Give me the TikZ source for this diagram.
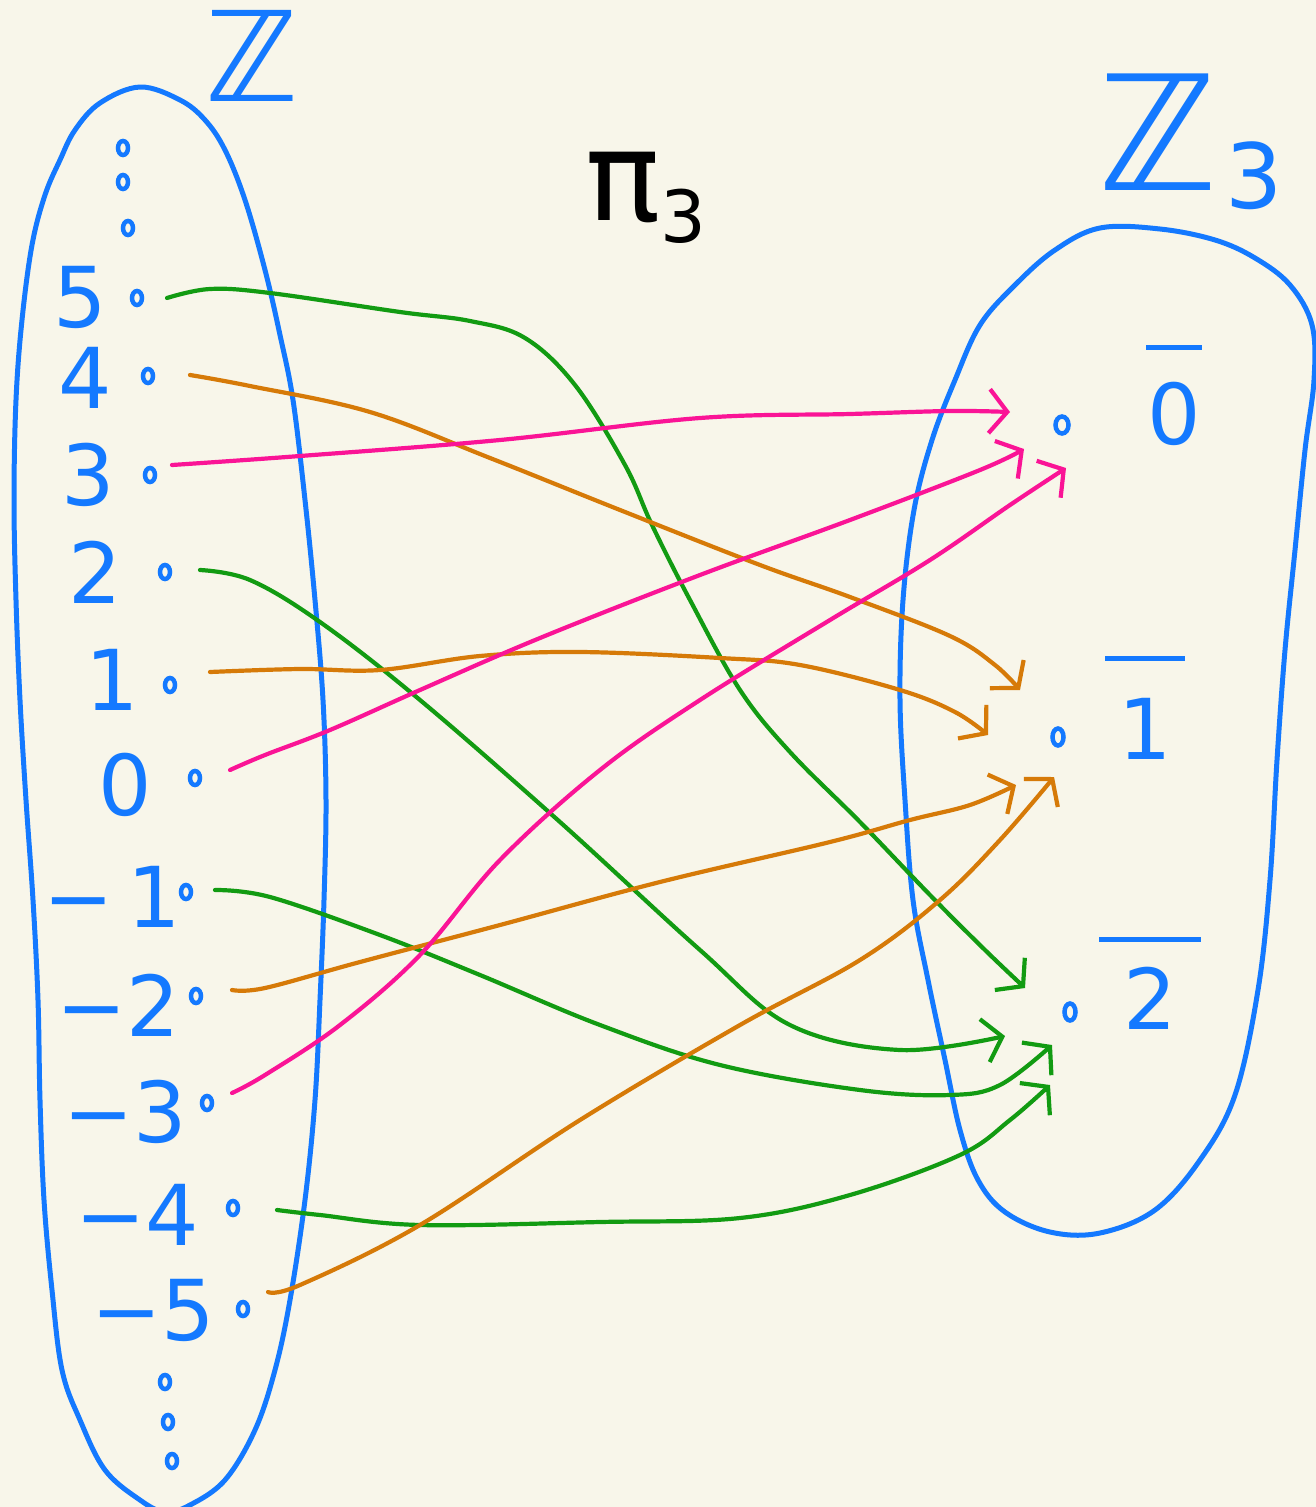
\documentclass[tikz,border=0pt]{standalone}
\usepackage{fontspec}
\setmainfont{DejaVu Sans}
\usetikzlibrary{arrows.meta,shapes.geometric}
\definecolor{bg}{HTML}{F8F6EA}
\definecolor{zblue}{HTML}{1479FF}
\definecolor{zgreen}{HTML}{129B12}
\definecolor{zorange}{HTML}{D67A08}
\definecolor{zpink}{HTML}{FA1496}
\newcommand\clsbar[3]{\begin{tabular}{@{}c@{}}\rule{#1}{5pt}\\[#2]#3\end{tabular}}
\begin{document}
\begin{tikzpicture}[x=1pt,y=-1pt,
  outline/.style={draw=zblue,line width=5pt,line cap=round,line join=round},
  numlab/.style={text=zblue,font=\fontsize{84}{90}\selectfont,inner sep=0pt},
  reslab/.style={text=zblue,font=\fontsize{84}{90}\selectfont,inner sep=0pt},
  elem/.style={ellipse,draw=zblue,line width=4.5pt,minimum width=10pt,minimum height=14pt,inner sep=0pt},
  map/.style={line width=4.2pt,line cap=round,line join=round,
    -{Straight Barb[length=18pt,width=44pt,line width=4.2pt]}},
  gmap/.style={map,draw=zgreen},
  omap/.style={map,draw=zorange},
  pmap/.style={map,draw=zpink},
]
\fill[bg] (0,0) rectangle (1316,1507);
\useasboundingbox (0,0) rectangle (1316,1507);

% ---- set outlines ----
\draw[outline] plot[smooth cycle,tension=0.6] coordinates {
  (140,87) (180,100) (205,120) (225,150) (245,200) (265,270) (280,335)
  (293,400) (305,500) (315,600) (323,700) (326,800) (324,900) (320,1000)
  (315,1100) (305,1200) (290,1300) (275,1370) (255,1430) (225,1480) (190,1505)
  (165,1512) (140,1500) (105,1470) (80,1420) (62,1370) (52,1290) (44,1200)
  (40,1100) (38,1000) (33,900) (26,800) (20,700) (16,600) (14,500) (16,400)
  (22,320) (32,245) (45,195) (60,160) (75,130) (100,103)};
\draw[outline] plot[smooth cycle,tension=0.6] coordinates {
  (1100,228) (1160,229) (1215,240) (1255,258) (1290,285) (1312,325)
  (1314,380) (1305,450) (1295,550) (1285,650) (1277,760) (1270,880)
  (1258,990) (1235,1095) (1200,1160) (1155,1210) (1100,1233) (1050,1232)
  (1005,1212) (978,1180) (960,1130) (945,1060) (928,980) (913,900)
  (905,800) (900,700) (903,600) (914,510) (932,440) (955,380) (980,325)
  (1015,285) (1055,250)};

% ---- titles ----
\node[text=zblue,font=\fontsize{125}{130}\selectfont,inner sep=0pt] (Zt) at (252,56) {ℤ};
\node[text=black,inner sep=0pt,anchor=base west] (pi) at (585,220)
  {\fontsize{125}{130}\selectfont π\raisebox{-22pt}{\fontsize{72}{80}\selectfont 3}};
\node[text=zblue,inner sep=0pt,anchor=base west] (Z3) at (1098,190)
  {\fontsize{160}{165}\selectfont ℤ\hspace{8pt}\raisebox{-18pt}{\fontsize{90}{100}\selectfont 3}};

% ---- left labels ----
\node[numlab] (n5)  at (80,297)  {5};
\node[numlab] (n4)  at (85,378)  {4};
\node[numlab] (n3)  at (88,475)  {3};
\node[numlab] (n2)  at (95,572)  {2};
\node[numlab] (n1)  at (112,680) {1};
\node[numlab] (n0)  at (125,785) {0};
\node[numlab] (nm1) at (112,897) {−\,1};
\node[numlab] (nm2) at (118,1005) {−2};
\node[numlab] (nm3) at (125,1112) {−3};
\node[numlab] (nm4) at (137,1215) {−4};
\node[numlab] (nm5) at (153,1310) {−5};

% ---- left elements ----
\node[elem] (e5)  at (137,298) {};
\node[elem] (e4)  at (148,376) {};
\node[elem] (e3)  at (150,475) {};
\node[elem] (e2)  at (165,572) {};
\node[elem] (e1)  at (170,685) {};
\node[elem] (e0)  at (195,778) {};
\node[elem] (em1) at (186,892) {};
\node[elem] (em2) at (196,996) {};
\node[elem] (em3) at (207,1103) {};
\node[elem] (em4) at (233,1208) {};
\node[elem] (em5) at (243,1309) {};
\node[elem] (u1) at (123,148) {};
\node[elem] (u2) at (123,182) {};
\node[elem] (u3) at (128,228) {};
\node[elem] (w1) at (165,1382) {};
\node[elem] (w2) at (168,1422) {};
\node[elem] (w3) at (172,1461) {};

% ---- right elements and labels ----
\node[elem,minimum width=13pt,minimum height=17pt] (c0) at (1062,425) {};
\node[elem,minimum width=11pt,minimum height=17pt] (c1) at (1058,737) {};
\node[elem,minimum width=11pt,minimum height=17pt] (c2) at (1070,1012) {};
\node[reslab,anchor=south] (l0) at (1174,472) {\clsbar{56pt}{5pt}{0}};
\node[reslab,anchor=south] (l1) at (1145,787) {\clsbar{80pt}{9pt}{1}};
\node[reslab,anchor=south] (l2) at (1150,1057) {\clsbar{102pt}{-2pt}{2}};

% ---- connector ends ----
\coordinate (s5) at (167,298);  \coordinate (s4) at (190,375);
\coordinate (s3) at (172,465);  \coordinate (s2) at (200,570);
\coordinate (s1) at (210,672);  \coordinate (s0) at (230,770);
\coordinate (sm1) at (215,890); \coordinate (sm2) at (232,990);
\coordinate (sm3) at (232,1093);\coordinate (sm4) at (277,1210);
\coordinate (sm5) at (268,1292);
\coordinate (t5) at (1025,988);  \coordinate (t4) at (1020,690);
\coordinate (t3) at (1010,412);  \coordinate (t2) at (1005,1036);
\coordinate (t1) at (988,735);   \coordinate (t0) at (1024,449);
\coordinate (tm1) at (1052,1045);\coordinate (tm2) at (1016,785);
\coordinate (tm3) at (1066,468); \coordinate (tm4) at (1050,1085);
\coordinate (tm5) at (1054,777);

% ---- maps ----
\draw[gmap] plot[smooth,tension=0.6] coordinates {(s5) (210,289) (270,293) (400,312)
  (470,321) (525,338) (575,385) (625,465) (652,525) (690,600) (740,690) (790,752)
  (860,822) (930,895) (985,950) (t5)};
\draw[omap] plot[smooth,tension=0.6] coordinates {(s4) (250,386) (370,412) (490,458)
  (620,510) (760,565) (850,597) (950,636) (995,665) (t4)};
\draw[pmap] plot[smooth,tension=0.6] coordinates {(s3) (300,456) (500,440) (700,418)
  (850,414) (950,411) (t3)};
\draw[gmap] plot[smooth,tension=0.6] coordinates {(s2) (250,580) (320,622) (420,700)
  (560,822) (700,950) (790,1025) (900,1050) (t2)};
\draw[omap] plot[smooth,tension=0.6] coordinates {(s1) (300,669) (380,670) (480,656)
  (580,652) (720,658) (800,665) (900,690) (955,712) (t1)};
\draw[pmap] plot[smooth,tension=0.6] coordinates {(s0) (265,755) (330,730) (420,690)
  (540,638) (700,575) (850,520) (980,470) (t0)};
\draw[gmap] plot[smooth,tension=0.6] coordinates {(sm1) (270,897) (380,935) (480,975)
  (600,1025) (720,1065) (860,1090) (950,1095) (1000,1085) (tm1)};
\draw[omap] plot[smooth,tension=0.6] coordinates {(sm2) (265,988) (360,962) (500,925)
  (660,882) (830,842) (910,820) (970,805) (tm2)};
\draw[pmap] plot[smooth,tension=0.6] coordinates {(sm3) (265,1075) (340,1025) (420,955)
  (500,860) (600,770) (700,700) (830,620) (930,560) (1010,505) (tm3)};
\draw[gmap] plot[smooth,tension=0.6] coordinates {(sm4) (320,1215) (420,1225)
  (600,1222) (740,1218) (850,1195) (960,1155) (1010,1120) (tm4)};
\draw[omap] plot[smooth,tension=0.6] coordinates {(sm5) (300,1285) (420,1225)
  (580,1120) (740,1025) (860,960) (940,900) (1000,840) (tm5)};
\end{tikzpicture}
\end{document}
